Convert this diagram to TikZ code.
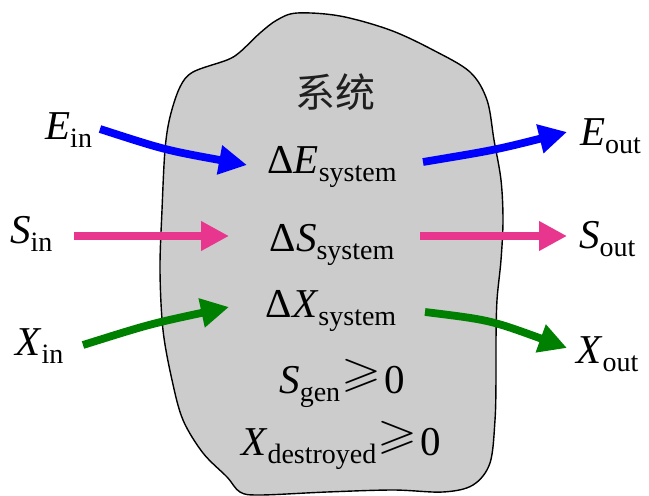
\documentclass[tikz,border=0pt]{standalone}
\usepackage{fontspec}
\usepackage{amssymb}
\usepackage{graphicx}
\setmainfont{Liberation Serif}
\newfontfamily\cjk{Noto Sans CJK SC}
\usetikzlibrary{arrows.meta}
\definecolor{blobgray}{HTML}{CCCCCC}
\definecolor{flowblue}{HTML}{0000FF}
\definecolor{flowpink}{HTML}{E8368E}
\definecolor{flowgreen}{HTML}{008000}
% lowered, smaller subscript text
\newcommand\lowsub[1]{\raisebox{-8.5pt}{\fontsize{28}{28}\selectfont #1}}
% large slanted "greater or equal" sign
\newcommand\geqs{\hspace{1pt}\raisebox{7pt}{\resizebox*{40pt}{33pt}{$\geqslant$}}\hspace{3pt}}

\begin{document}
\begin{tikzpicture}[x=1pt,y=-1pt,
  lbl/.style={inner sep=0pt, font=\fontsize{41}{41}\selectfont},
  flow/.style={line width=7.8pt, -{Triangle[length=28pt,width=28pt]}},
]
\useasboundingbox (0,0) rectangle (649,496);

% the system boundary
\draw[fill=blobgray, line width=1.4pt, line join=round]
  plot[smooth cycle, tension=0.55] coordinates {
    (297,13) (340,16) (390,30) (433,50) (470,72) (487,100) (494,140)
    (501,180) (503,220) (501,260) (497,300) (496,340) (496,380) (495,420)
    (490,463) (473,485) (443,492) (393,490) (327,492) (260,495) (240,492)
    (227,477) (203,453) (183,420) (172,380) (163,330) (160,270) (162,210)
    (165,150) (170,117) (180,87) (193,72) (227,60) (240,52) (260,33) (277,20)};

% texts inside the system
\node[lbl, anchor=base, font=\fontsize{40}{40}\selectfont\cjk, text=black!88] (sys) at (335,107) {系统};
\node[lbl, anchor=base] (dE) at (332,173) {Δ\textit{E}\lowsub{system}};
\node[lbl, anchor=base] (dS) at (332,251) {Δ\textit{S}\lowsub{system}};
\node[lbl, anchor=base] (dX) at (331,317) {Δ\textit{X}\lowsub{system}};
\node[lbl, anchor=base] (sgen) at (342,393) {\textit{S}\lowsub{gen}\geqs 0};
\node[lbl, anchor=base] (xdes) at (341,455) {\textit{X}\lowsub{destroyed}\geqs 0};

% flow labels
\node[lbl, anchor=base west] (ein) at (45,139) {\textit{E}\lowsub{in}};
\node[lbl, anchor=base west] (sin) at (10,243) {\textit{S}\lowsub{in}};
\node[lbl, anchor=base west] (xin) at (15,355) {\textit{X}\lowsub{in}};
\node[lbl, anchor=base west] (eout) at (580,145) {\textit{E}\lowsub{out}};
\node[lbl, anchor=base west] (sout) at (579,248) {\textit{S}\lowsub{out}};
\node[lbl, anchor=base west] (xout) at (576,363) {\textit{X}\lowsub{out}};

% arrow end points
\coordinate (ein-a) at (100,129);  \coordinate (ein-b) at (247,165);
\coordinate (sin-a) at (74,236);   \coordinate (sin-b) at (229,236);
\coordinate (xin-a) at (83,345);   \coordinate (xin-b) at (229,307);
\coordinate (eout-a) at (423,162); \coordinate (eout-b) at (567,132);
\coordinate (sout-a) at (420,236); \coordinate (sout-b) at (567,236);
\coordinate (xout-a) at (425,312); \coordinate (xout-b) at (567,348);

% flows in and out
\draw[flow, flowblue] (ein-a) .. controls (165,150) .. (ein-b);
\draw[flow, flowpink] (sin-a) -- (sin-b);
\draw[flow, flowgreen] (xin-a) .. controls (150,324) .. (xin-b);
\draw[flow, flowblue] (eout-a) .. controls (495,150) .. (eout-b);
\draw[flow, flowpink] (sout-a) -- (sout-b);
\draw[flow, flowgreen] (xout-a) .. controls (490,320) .. (xout-b);
\end{tikzpicture}
\end{document}
